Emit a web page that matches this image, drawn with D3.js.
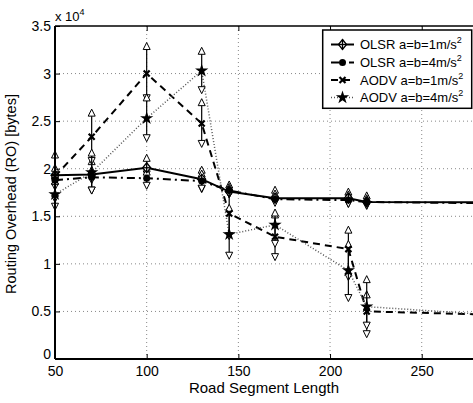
<!DOCTYPE html>
<html><head><meta charset="utf-8">
<script src="https://cdn.jsdelivr.net/npm/d3@7"></script>
<style>body{margin:0;background:#fff;} svg{display:block;font-family:"Liberation Sans",Arial,sans-serif;}</style>
</head><body>
<svg id="c" width="473" height="403"></svg>
<script>
const xs = [50, 70, 100, 130, 145, 170, 210, 220, 300];
const olsr1   = [19300, 19400, 20100, 18900, 17600, 16900, 16900, 16500, 16450];
const olsr1Hi = [20200, 20900, 21250, 20000, 18450, 17900, 17700, 17300];
const olsr1Lo = [18500, 18700, 19300, 17750, 17200, 16500, 16200, 16000];
const olsr4   = [18800, 19100, 19000, 18700, 17700, 16800, 16700, 16500, 16350];
const olsr4Hi = [19500, 20000, 19800, 19600, 18200, 17500, 17400, 17000];
const olsr4Lo = [18000, 17600, 18100, 17800, 17200, 16300, 16200, 16000];
const aodv1   = [19200, 23350, 30000, 24750, 15300, 12850, 11550, 5000, 4600];
const aodv1Hi = [21600, 26000, 33000, 27100, 18000, 15300, 13700, 6900];
const aodv1Lo = [16700, 20700, 27300, 22500, 12800, 10600, 8500, 2500];
const aodv4   = [17300, 19600, 25300, 30300, 13100, 14100, 9300, 5500, 4500];
const aodv4Hi = [18800, 21800, 27600, 32500, 16000, 15500, 12200, 8500];
const aodv4Lo = [15900, 17600, 23100, 28150, 10750, 12000, 6300, 3400];
const xTicks = [50, 100, 150, 200, 250];
const yTicks = [0, 5000, 10000, 15000, 20000, 25000, 30000, 35000];
const yTickLabels = ["0", "0.5", "1", "1.5", "2", "2.5", "3", "3.5"];
const seriesNames = ["OLSR a=b=1m/s", "OLSR a=b=4m/s", "AODV a=b=1m/s", "AODV a=b=4m/s"];

const svg = d3.select("#c");
const L = 55, T = 26, B = 359;
const x = d3.scaleLinear().domain([50, 300]).range([L, L + 458.4]);
const y = d3.scaleLinear().domain([0, 35000]).range([B, T]);
const R = x(300);

// grid
const g = svg.append("g");
xTicks.slice(1).forEach(t => g.append("line").attr("x1", x(t)).attr("x2", x(t)).attr("y1", T).attr("y2", B)
  .attr("stroke", "#888").attr("stroke-width", 1).attr("stroke-dasharray", "1,3"));
yTicks.slice(1, -1).forEach(t => g.append("line").attr("x1", L).attr("x2", R).attr("y1", y(t)).attr("y2", y(t))
  .attr("stroke", "#888").attr("stroke-width", 1).attr("stroke-dasharray", "1,3"));

const series = [
  {v: olsr1, hi: olsr1Hi, lo: olsr1Lo, dash: null, w: 2, col: "#000", m: "diamond"},
  {v: olsr4, hi: olsr4Hi, lo: olsr4Lo, dash: "8,4,2,4", w: 2, col: "#000", m: "circle"},
  {v: aodv1, hi: aodv1Hi, lo: aodv1Lo, dash: "7,5", w: 2, col: "#000", m: "x"},
  {v: aodv4, hi: aodv4Hi, lo: aodv4Lo, dash: "1,2", w: 1.5, col: "#555", m: "star"}
];

const line = d3.line().x((d, i) => x(xs[i])).y(d => y(d));
series.forEach(s => {
  svg.append("path").attr("d", line(s.v)).attr("fill", "none").attr("stroke", s.col)
    .attr("stroke-width", s.w).attr("stroke-dasharray", s.dash);
});

function triPath(cx, cy, up) {
  const h = 7, w = 7;
  return up ? `M${cx},${cy-h/2}L${cx+w/2},${cy+h/2}L${cx-w/2},${cy+h/2}Z`
            : `M${cx},${cy+h/2}L${cx+w/2},${cy-h/2}L${cx-w/2},${cy-h/2}Z`;
}
// error bars
series.forEach(s => {
  s.hi.forEach((h, i) => {
    const cx = x(xs[i]);
    svg.append("line").attr("x1", cx).attr("x2", cx).attr("y1", y(h)).attr("y2", y(s.lo[i]))
      .attr("stroke", "#000").attr("stroke-width", 1.2);
    svg.append("path").attr("d", triPath(cx, y(h) + 1, true)).attr("fill", "#fff").attr("stroke", "#000").attr("stroke-width", 1);
    svg.append("path").attr("d", triPath(cx, y(s.lo[i]) - 1, false)).attr("fill", "#fff").attr("stroke", "#000").attr("stroke-width", 1);
  });
});

function marker(sel, type, cx, cy) {
  if (type === "diamond") {
    sel.append("path").attr("d", `M${cx},${cy-5}L${cx+4},${cy}L${cx},${cy+5}L${cx-4},${cy}Z`)
      .attr("fill", "#fff").attr("stroke", "#000").attr("stroke-width", 1.3);
    sel.append("line").attr("x1", cx-4).attr("x2", cx+4).attr("y1", cy).attr("y2", cy).attr("stroke", "#000").attr("stroke-width", 1.3);
    sel.append("line").attr("x1", cx).attr("x2", cx).attr("y1", cy-5).attr("y2", cy+5).attr("stroke", "#000").attr("stroke-width", 1.3);
  } else if (type === "circle") {
    sel.append("circle").attr("cx", cx).attr("cy", cy).attr("r", 3.5).attr("fill", "#000");
  } else if (type === "x") {
    sel.append("path").attr("d", `M${cx-3},${cy-3}L${cx+3},${cy+3}M${cx-3},${cy+3}L${cx+3},${cy-3}`)
      .attr("stroke", "#000").attr("stroke-width", 2.2);
  } else {
    sel.append("path").attr("d", d3.symbol().type(d3.symbolStar).size(55)()).attr("transform", `translate(${cx},${cy})`)
      .attr("fill", "#000");
  }
}
series.forEach(s => {
  s.hi.forEach((h, i) => marker(svg, s.m, x(xs[i]), y(s.v[i])));
});

// axes frame
const axG = svg.append("g");
axG.append("line").attr("x1", L).attr("x2", L).attr("y1", T).attr("y2", B).attr("stroke", "#000").attr("stroke-width", 2);
axG.append("line").attr("x1", L).attr("x2", R).attr("y1", B).attr("y2", B).attr("stroke", "#000").attr("stroke-width", 2);
axG.append("line").attr("x1", L).attr("x2", R).attr("y1", T).attr("y2", T).attr("stroke", "#000").attr("stroke-width", 1.5);

const xa = svg.append("g").attr("transform", `translate(0,${B})`)
  .call(d3.axisBottom(x).tickValues(xTicks).tickSize(-5).tickPadding(7).tickFormat(d3.format("d")));
xa.select(".domain").remove();
xa.selectAll("text").attr("font-size", 14).attr("fill", "#000").attr("font-family", "Liberation Sans, Arial, sans-serif");
xa.selectAll("line").attr("stroke-width", 1);
svg.append("g").attr("transform", `translate(0,${T})`)
  .call(d3.axisTop(x).tickValues(xTicks).tickSize(-5).tickFormat(""))
  .select(".domain").remove();

const ya = svg.append("g").attr("transform", `translate(${L},0)`)
  .call(d3.axisLeft(y).tickValues(yTicks).tickSize(-5).tickPadding(4).tickFormat((d, i) => yTickLabels[i]));
ya.select(".domain").remove();
ya.selectAll("text").attr("font-size", 14).attr("fill", "#000").attr("font-family", "Liberation Sans, Arial, sans-serif");
ya.selectAll(".tick").filter(d => d === 0).select("text").attr("dy", "-0.05em");

// exponent
const ex = svg.append("text").attr("x", 55).attr("y", 21).attr("font-size", 13);
ex.append("tspan").text("x 10");
ex.append("tspan").attr("dy", -6).attr("font-size", 9).text("4");

svg.append("text").attr("x", 264).attr("y", 393).attr("text-anchor", "middle").attr("font-size", 15).text("Road Segment Length");
svg.append("text").attr("transform", "translate(16,194) rotate(-90)").attr("text-anchor", "middle").attr("font-size", 14.5)
  .text("Routing Overhead (RO) [bytes]");

// legend
const lg = svg.append("g");
lg.append("rect").attr("x", 322.7).attr("y", 30).attr("width", 149).attr("height", 78.3)
  .attr("fill", "#fff").attr("stroke", "#000").attr("stroke-width", 1.5);
const rowsY = [44.5, 62.5, 80, 97.5];
series.forEach((s, i) => {
  const yy = rowsY[i];
  lg.append("line").attr("x1", 331).attr("x2", 354).attr("y1", yy).attr("y2", yy).attr("stroke", s.col)
    .attr("stroke-width", s.w).attr("stroke-dasharray", s.dash);
  marker(lg, s.m, 342.5, yy);
  const t = lg.append("text").attr("x", 360).attr("y", yy + 4.5).attr("font-size", 13);
  t.append("tspan").text(seriesNames[i]);
  t.append("tspan").attr("dy", -6).attr("font-size", 9).text("2");
});
</script>
</body></html>
